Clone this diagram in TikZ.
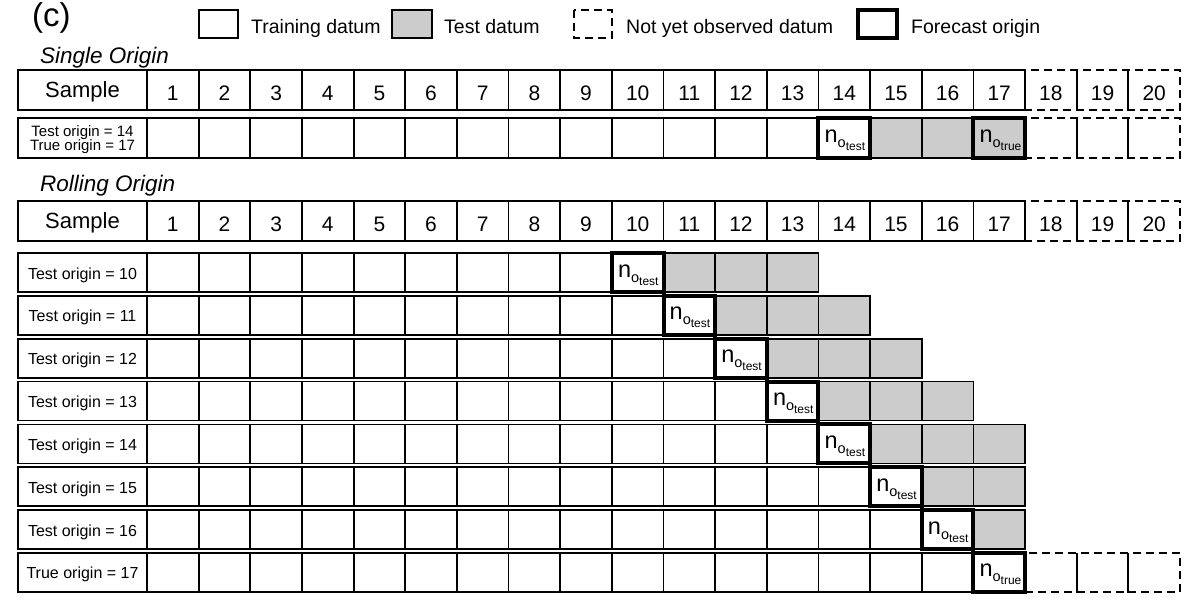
\documentclass[tikz,border=0pt]{standalone}
\usepackage{fontspec}
\setmainfont{Liberation Sans}
\usepackage{tikz}
\newcommand{\fsz}[1]{\fontsize{#1}{#1}\selectfont}
\newcommand{\orig}[1]{{\fsz{23.5}n}\raisebox{-5pt}{\fsz{14.5}o\raisebox{-3pt}{\fsz{12}#1}}}
\tikzset{every picture/.style={x=1pt, y=-1pt},
  cell/.style={draw, line width=1.8pt},
  testcell/.style={cell, fill=gray!40},
  unseen/.style={draw, line width=1.8pt, dash pattern=on 8pt off 5pt},
  origin/.style={draw, line width=4pt},
  num/.style={anchor=base, inner sep=0pt, font=\fsz{21}},
  lab/.style={anchor=base, inner sep=0pt, font=\fsz{16}}}

\begin{document}
\begin{tikzpicture}
      \useasboundingbox (0,0) rectangle (1200,600);
      \def\cw{51.65}
      \def\lx{18}
      \def\gx{147}
      % Legend
      \node[anchor=base west, inner sep=0pt, font=\fsz{33}] (tag) at (32,26) {(c)};
      \draw[cell] (199,10) rectangle (238,38);
      \node[anchor=base west, inner sep=0pt, font=\fsz{19.5}] (ltrain) at (251,33) {Training datum};
      \draw[testcell] (392,10) rectangle (432,38);
      \node[anchor=base west, inner sep=0pt, font=\fsz{19.5}] (ltest) at (444,33) {Test datum};
      \draw[unseen] (574,10) rectangle (612,38);
      \node[anchor=base west, inner sep=0pt, font=\fsz{19.5}] (lunseen) at (626,33) {Not yet observed datum};
      \draw[origin] (858,10) rectangle (897,38);
      \node[anchor=base west, inner sep=0pt, font=\fsz{19.5}] (lorigin) at (911,33) {Forecast origin};
      % Single origin
      \node[anchor=base west, inner sep=0pt, font=\itshape\fsz{22.5}] (single) at (40,63) {Single Origin};
      \foreach \t/\h in {70/sa, 201/ro}{
          \draw[cell] (\lx,\t) rectangle (\gx,\t+40);
          \node[anchor=base, inner sep=0pt, font=\fsz{22}] (\h sample) at (82.5,\t+27) {Sample};
          \foreach \i in {1,...,17}{
              \draw[cell] ({\gx+(\i-1)*\cw},\t) rectangle ({\gx+\i*\cw},\t+40);
              \node[num] (\h\i) at ({\gx+(\i-.5)*\cw},\t+30) {\i};
            }
          \foreach \i in {18,19,20}{
              \draw[unseen] ({\gx+(\i-1)*\cw},\t) rectangle ({\gx+\i*\cw},\t+40);
              \node[num] (\h\i) at ({\gx+(\i-.5)*\cw},\t+30) {\i};
            }
        }
      \draw[cell] (\lx,118) rectangle (\gx,158);
      \node[lab, font=\fsz{15}] (sla) at (82.5,136.5) {Test origin = 14};
      \node[lab, font=\fsz{15}] (slb) at (82.5,150.5) {True origin = 17};
      \foreach \i in {1,...,14}{
          \draw[cell] ({\gx+(\i-1)*\cw},118) rectangle ({\gx+\i*\cw},158);
        }
      \foreach \i in {15,16,17}{
          \draw[testcell] ({\gx+(\i-1)*\cw},118) rectangle ({\gx+\i*\cw},158);
        }
      \foreach \i in {18,19,20}{
          \draw[unseen] ({\gx+(\i-1)*\cw},118) rectangle ({\gx+\i*\cw},158);
        }
      \draw[origin] ({\gx+13*\cw},118) rectangle ({\gx+14*\cw},158);
      \draw[origin] ({\gx+16*\cw},118) rectangle ({\gx+17*\cw},158);
      \node[anchor=base west, inner sep=0pt] (stest) at ({\gx+13*\cw+6},142) {\orig{test}};
      \node[anchor=base west, inner sep=0pt] (strue) at ({\gx+16*\cw+6},142) {\orig{true}};
      % Rolling origin
      \node[anchor=base west, inner sep=0pt, font=\itshape\fsz{22.5}] (rolling) at (40,191) {Rolling Origin};
      \foreach \k in {10,...,16}{
          \pgfmathsetmacro\t{253+(\k-10)*42.85}
          \pgfmathtruncatemacro\km{\k-1}
          \pgfmathtruncatemacro\kp{\k+1}
          \pgfmathtruncatemacro\ke{min(\k+3,17)}
          \draw[cell] (\lx,\t) rectangle (\gx,\t+39);
          \node[lab] (r\k) at (82.5,\t+26) {Test origin = \k};
          \foreach \i in {1,...,\km}{
              \draw[cell] ({\gx+(\i-1)*\cw},\t) rectangle ({\gx+\i*\cw},\t+39);
            }
          \foreach \i in {\kp,...,\ke}{
              \draw[testcell] ({\gx+(\i-1)*\cw},\t) rectangle ({\gx+\i*\cw},\t+39);
            }
          \draw[origin] ({\gx+(\k-1)*\cw},\t) rectangle ({\gx+\k*\cw},\t+39);
          \node[anchor=base west, inner sep=0pt] (o\k) at ({\gx+(\k-1)*\cw+6},\t+24) {\orig{test}};
        }
      \def\t{552.9}
      \draw[cell] (\lx,\t) rectangle (\gx,\t+39);
      \node[lab] (r17) at (82.5,\t+26) {True origin = 17};
      \foreach \i in {1,...,16}{
          \draw[cell] ({\gx+(\i-1)*\cw},\t) rectangle ({\gx+\i*\cw},\t+39);
        }
      \foreach \i in {18,19,20}{
          \draw[unseen] ({\gx+(\i-1)*\cw},\t) rectangle ({\gx+\i*\cw},\t+39);
        }
      \draw[origin] ({\gx+16*\cw},\t) rectangle ({\gx+17*\cw},\t+39);
      \node[anchor=base west, inner sep=0pt] (o17) at ({\gx+16*\cw+6},\t+24) {\orig{true}};
    \end{tikzpicture}
\end{document}
